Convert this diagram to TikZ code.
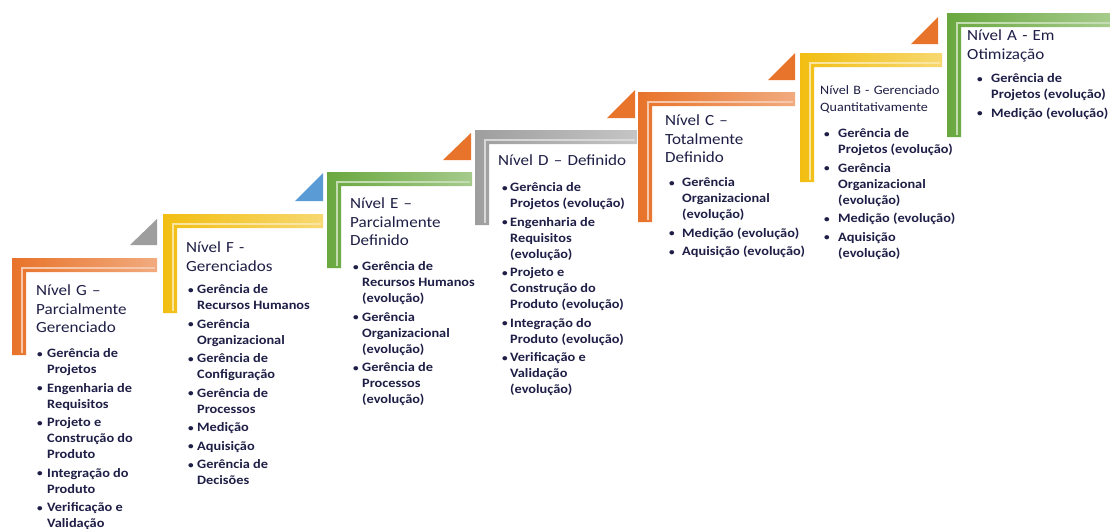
\documentclass[tikz,border=0pt]{standalone}
\usepackage{fontspec}
\setmainfont{Carlito}
\newfontfamily\ttlface[FakeStretch=1.1]{Carlito}
\newfontfamily\itmface[FakeStretch=1.12]{Carlito}
\usepackage{xcolor}
\definecolor{ink}{HTML}{1E1E46}
\definecolor{orG}{HTML}{E8732A}
\definecolor{yeL}{HTML}{F2BE12}
\definecolor{grN}{HTML}{6AA83F}
\definecolor{grY}{HTML}{9E9E9E}
\definecolor{blU}{HTML}{5B9BD5}
\newlength{\itmhang}
\newcommand{\bul}{\makebox[\itmhang][l]{\raisebox{0.5pt}{\fontsize{10}{10}\selectfont\textbullet}}}
\usetikzlibrary{positioning}

\begin{document}
\begin{tikzpicture}[
  x=1pt, y=-1pt,
  bar/.style={left color=#1, right color=#1!60!white},
  shine/.style={draw=#1!40!white, line width=2pt},
  tri/.style={fill=#1},
  ttl/.style={anchor=base west, inner sep=0pt, text width=170pt, align=left, text=ink,
    font=\ttlface\fontsize{15.5}{18.5}\selectfont},
  lst/.style={anchor=base west, inner sep=0pt, text=ink,
    font=\itmface\bfseries\fontsize{12.8}{16}\selectfont,
    execute at begin node={\setlength{\itmhang}{#1}}}]
\useasboundingbox[fill=white] (0,0) rectangle (1110,528);
% ---- steps, low to high
\shade[bar=orG] (12,258) -| (157,272) -| (26,355) -- (12,355) -- cycle;
\draw[shine=orG] (21.5,353) |- (155,267.5);
\fill[tri=grY] (130,245) -- (157,245) -- (157,219) -- cycle;
\shade[bar=yeL] (163,214) -| (323,228) -| (177,313) -- (163,313) -- cycle;
\draw[shine=yeL] (172.5,311) |- (321,223.5);
\fill[tri=blU] (295,201) -- (323,201) -- (323,173) -- cycle;
\shade[bar=grN] (327,172) -| (472,186) -| (341,268) -- (327,268) -- cycle;
\draw[shine=grN] (336.5,266) |- (470,181.5);
\fill[tri=orG] (443,160) -- (471,160) -- (471,133) -- cycle;
\shade[bar=grY] (475,130) -| (637,144) -| (489,225) -- (475,225) -- cycle;
\draw[shine=grY] (484.5,223) |- (635,139.5);
\fill[tri=orG] (607,118) -- (635,118) -- (635,90) -- cycle;
\shade[bar=orG] (638,92) -| (795,106) -| (652,222) -- (638,222) -- cycle;
\draw[shine=orG] (647.5,220) |- (793,101.5);
\fill[tri=orG] (768,80) -- (795,80) -- (795,53) -- cycle;
\shade[bar=yeL] (800,53) -| (942,67) -| (814,182) -- (800,182) -- cycle;
\draw[shine=yeL] (809.5,180) |- (940,62.5);
\fill[tri=orG] (911,44) -- (938,44) -- (938,17) -- cycle;
\shade[bar=grN] (947,13) -| (1110,27) -| (961,137) -- (947,137) -- cycle;
\draw[shine=grN] (956.5,135) |- (1110,22.5);
% ---- level G
\node[ttl] (ttlG) at (36,295.5) {Nível G –\\Parcialmente\\Gerenciado};
\node[lst=10pt] (lstG) at (37,357.5) {\begin{tabular}[t]{@{}l@{}l@{}}
  \bul & Gerência de\\ & Projetos\\[2.5pt]
  \bul & Engenharia de\\ & Requisitos\\[2.5pt]
  \bul & Projeto e\\ & Construção do\\ & Produto\\[2.5pt]
  \bul & Integração do\\ & Produto\\[2.5pt]
  \bul & Verificação e\\ & Validação
  \end{tabular}};
% ---- level F
\node[ttl] (ttlF) at (186,252.5) {Nível F -\\Gerenciados};
\node[lst=9pt] (lstF) at (188,293.5) {\begin{tabular}[t]{@{}l@{}l@{}}
  \bul & Gerência de\\ & Recursos Humanos\\[2.5pt]
  \bul & Gerência\\ & Organizacional\\[2.5pt]
  \bul & Gerência de\\ & Configuração\\[2.5pt]
  \bul & Gerência de\\ & Processos\\[2.5pt]
  \bul & Medição\\[2.5pt]
  \bul & Aquisição\\[2.5pt]
  \bul & Gerência de\\ & Decisões
  \end{tabular}};
% ---- level E
\node[ttl] (ttlE) at (350,208.5) {Nível E –\\Parcialmente\\Definido};
\node[lst=9pt] (lstE) at (353,270.5) {\begin{tabular}[t]{@{}l@{}l@{}}
  \bul & Gerência de\\ & Recursos Humanos\\ & (evolução)\\[2.5pt]
  \bul & Gerência\\ & Organizacional\\ & (evolução)\\[2.5pt]
  \bul & Gerência de\\ & Processos\\ & (evolução)
  \end{tabular}};
% ---- level D
\node[ttl] (ttlD) at (498,165.5) {Nível D – Definido};
\node[lst=8pt] (lstD) at (502,191.5) {\begin{tabular}[t]{@{}l@{}l@{}}
  \bul & Gerência de\\ & Projetos (evolução)\\[2.5pt]
  \bul & Engenharia de\\ & Requisitos\\ & (evolução)\\[2.5pt]
  \bul & Projeto e\\ & Construção do\\ & Produto (evolução)\\[2.5pt]
  \bul & Integração do\\ & Produto (evolução)\\[2.5pt]
  \bul & Verificação e\\ & Validação\\ & (evolução)
  \end{tabular}};
% ---- level C
\node[ttl] (ttlC) at (665,125.5) {Nível C –\\Totalmente\\Definido};
\node[lst=13pt] (lstC) at (669,186.5) {\begin{tabular}[t]{@{}l@{}l@{}}
  \bul & Gerência\\ & Organizacional\\ & (evolução)\\[2.5pt]
  \bul & Medição (evolução)\\[2.5pt]
  \bul & Aquisição (evolução)
  \end{tabular}};
% ---- level B
\node[ttl, font=\ttlface\fontsize{12.8}{17}\selectfont] (ttlB) at (820,94.5) {Nível B - Gerenciado\\Quantitativamente};
\node[lst=14pt] (lstB) at (824,137.5) {\begin{tabular}[t]{@{}l@{}l@{}}
  \bul & Gerência de\\ & Projetos (evolução)\\[2.5pt]
  \bul & Gerência\\ & Organizacional\\ & (evolução)\\[2.5pt]
  \bul & Medição (evolução)\\[2.5pt]
  \bul & Aquisição\\ & (evolução)
  \end{tabular}};
% ---- level A
\node[ttl] (ttlA) at (967,40.5) {Nível A - Em\\Otimização};
\node[lst=14pt] (lstA) at (977,82.5) {\begin{tabular}[t]{@{}l@{}l@{}}
  \bul & Gerência de\\ & Projetos (evolução)\\[2.5pt]
  \bul & Medição (evolução)
  \end{tabular}};
\end{tikzpicture}
\end{document}
